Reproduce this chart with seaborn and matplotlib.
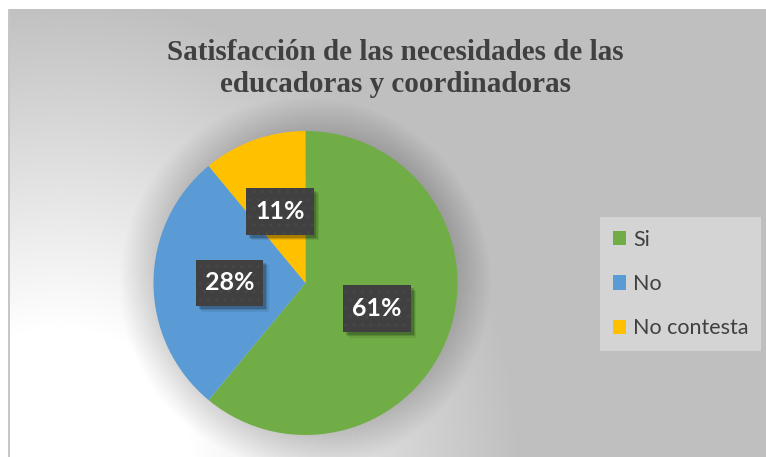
import numpy as np
import matplotlib
matplotlib.use("Agg")
import matplotlib.pyplot as plt
import seaborn as sns
from matplotlib.patches import Patch, Circle
from matplotlib.path import Path
import matplotlib.patheffects as pe

# ---- data ----
categories = ["Si", "No", "No contesta"]
values = [61, 28, 11]
colors = ["#70AD47", "#5B9BD5", "#FFC000"]
title_lines = ["Satisfacción de las necesidades de las", "educadoras y coordinadoras"]

sns.set_theme(style="white")
plt.rcParams["font.family"] = ["Lato", "DejaVu Sans"]
plt.rcParams["hatch.linewidth"] = 1.0

W, H = 766, 457
fig = plt.figure(figsize=(W / 100, H / 100), dpi=100)

# ---- background with radial gradient ----
yy, xx = np.mgrid[0:H, 0:W]
d = np.hypot(xx - 60, yy - H)
t = np.clip((d - 130) / 330, 0, 1)
val = 1 - t * (1 - 0xBF / 255)
rgb = np.dstack([val] * 3)
rgb[:9, :] = 1
rgb[:, :8] = 1
rgb[9:, 8:10] = 0xC6 / 255
bg = fig.add_axes([0, 0, 1, 1], zorder=-10)
bg.imshow(rgb, aspect="auto", interpolation="nearest")
bg.axis("off")

# ---- pie ----
R = 152
cx, cy = 305.5, H - 283
ax = fig.add_axes([(cx - R) / W, (cy - R) / H, 2 * R / W, 2 * R / H])
ax.patch.set_alpha(0)
wedges, texts, autotexts = ax.pie(
    values, colors=colors, startangle=90, counterclock=False,
    autopct="%1.0f%%", pctdistance=0.5,
    textprops=dict(color="white", fontsize=18, fontweight="bold"),
    wedgeprops=dict(linewidth=0),
)
ax.set_xlim(-1, 1)
ax.set_ylim(-1, 1)

for k in range(36):
    ax.add_patch(Circle((0, 0), 1 + 0.0062 * (k + 1), fc="black", alpha=0.0035,
                        lw=0, zorder=0, clip_on=False))


def label_box(x0, y0, width, height, mutation_size):
    px, py = 0.36 * mutation_size, 0.47 * mutation_size
    xa, ya, xb, yb = x0 - px, y0 - py, x0 + width + px, y0 + height + py
    return Path([(xa, ya), (xb, ya), (xb, yb), (xa, yb), (xa, ya)],
                [Path.MOVETO, Path.LINETO, Path.LINETO, Path.LINETO, Path.CLOSEPOLY])


class PlainShadow(pe.AbstractPathEffect):
    def __init__(self, offset=(2, -2), alpha=0.3):
        super().__init__(offset)
        self.alpha = alpha

    def draw_path(self, renderer, gc, tpath, affine, rgbFace):
        gc0 = renderer.new_gc()
        gc0.copy_properties(gc)
        gc0.set_hatch(None)
        gc0.set_linewidth(0)
        gc0.set_alpha(self.alpha)
        renderer.draw_path(gc0, tpath, affine + self._offset_transform(renderer),
                           (0, 0, 0))
        gc0.restore()


for at in autotexts:
    at.set_bbox(dict(boxstyle=label_box, fc="#404040", ec="#474747",
                     hatch="..", lw=0))
    at.get_bbox_patch().set_path_effects(
        [PlainShadow((4, -4), 0.08), PlainShadow((3, -3), 0.12),
         PlainShadow((2, -2), 0.18), pe.Normal()])

# ---- legend ----
handles = [Patch(fc=c, ec="none") for c in colors]
fig.legend(handles, categories, loc="upper left",
           bbox_to_anchor=(600 / W, 1 - 217 / H), bbox_transform=fig.transFigure,
           borderaxespad=0, frameon=True, fancybox=False, facecolor="#D4D4D4",
           edgecolor="none", framealpha=1, fontsize=15.5, handlelength=0.63,
           handleheight=0.63, handletextpad=0.3, labelspacing=1.12,
           borderpad=0.6, labelcolor="#404040")

# ---- title ----
for line, base in zip(title_lines, [60, 92]):
    fig.text(395 / W, 1 - base / H, line, ha="center", va="baseline",
             family=["Liberation Serif"], fontweight="bold", fontsize=21,
             color="#404040")

fig.savefig("out.png", dpi=100)
